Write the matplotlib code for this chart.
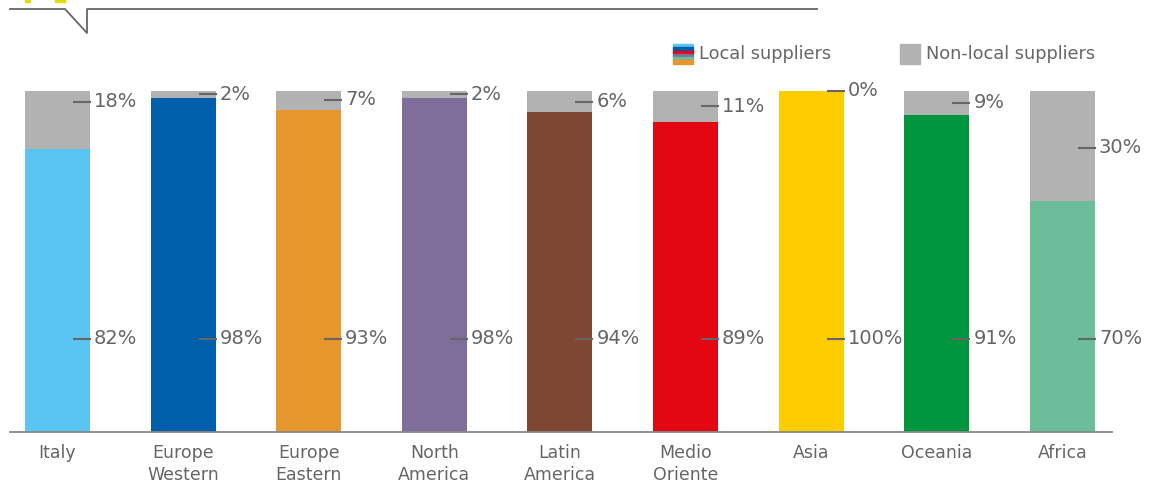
import matplotlib
matplotlib.use("Agg")
import matplotlib.pyplot as plt
from matplotlib.patches import Rectangle
from matplotlib.lines import Line2D

categories = ["Italy", "Europe\nWestern", "Europe\nEastern", "North\nAmerica", "Latin\nAmerica",
              "Medio\nOriente", "Asia", "Oceania", "Africa"]
# shares as drawn (bar heights)
local_drawn = [83.0, 97.9, 94.4, 97.9, 93.8, 90.9, 100, 93.0, 67.7]
# shares as labelled
local = [82, 98, 93, 98, 94, 89, 100, 91, 70]
nonlocal_ = [18, 2, 7, 2, 6, 11, 0, 9, 30]
colors = ["#5BC5F2", "#005EAB", "#E5972E", "#7F6D9A", "#7F4632", "#E30613", "#FFCC00", "#009640", "#6BBE99"]
gray = "#B2B2B2"
txt = "#666666"

# layout: y positions (axis %) for the non-local labels
nl_label_y = [96.8, 99.1, 97.4, 99.1, 96.8, 95.6, 100, 96.5, 83.3]
local_label_y = 27.3

plt.rcParams['font.family'] = ['DejaVu Sans']
W, H = 1158, 484
fig = plt.figure(figsize=(W / 100, H / 100), dpi=100)
ax = fig.add_axes([10 / W, 52 / H, 1102 / W, 341 / H])

x = list(range(len(categories)))
nonlocal_drawn = [100 - v for v in local_drawn]
bw = 65 / 125.6
ax.bar(x, local_drawn, width=bw, color=colors, zorder=2)
ax.bar(x, nonlocal_drawn, bottom=local_drawn, width=bw, color=gray, zorder=2)
ax.set_xlim(-0.378, 8.395)
ax.set_ylim(0, 100)
for s in ["top", "right", "left"]:
    ax.spines[s].set_visible(False)
ax.spines["bottom"].set_color("#888888")
ax.spines["bottom"].set_linewidth(1.3)
ax.set_yticks([])
ax.set_xticks(x)
ax.set_xticklabels(categories, color=txt, fontsize=12.5, linespacing=1.22)
ax.tick_params(axis="x", length=0, pad=9)

px = 1 / 125.6
for i in x:
    right = i + bw / 2
    for yv, val in [(local_label_y, local[i]), (nl_label_y[i], nonlocal_[i])]:
        ax.plot([right - 17 * px, right + 1 * px], [yv, yv], color=txt, lw=1.5, zorder=3,
                solid_capstyle="butt", clip_on=False)
        ax.text(right + 4 * px, yv, f"{val}%", color=txt, fontsize=14, va="center", ha="left",
                clip_on=False)

# legend
def frect(x0, y0, w, h, c):
    fig.patches.append(Rectangle((x0 / W, 1 - (y0 + h) / H), w / W, h / H, color=c,
                                 transform=fig.transFigure, figure=fig))

stripes = [("#5BC5F2", 3), ("#005EAB", 4), ("#E30613", 3), ("#7F6D9A", 3), ("#6BBE99", 3), ("#E5972E", 4)]
yy = 44
for c, h in stripes:
    frect(673, yy, 20, h, c)
    yy += h
fig.text(699 / W, 1 - 54 / H, "Local suppliers", color=txt, fontsize=12.8, va="center", ha="left")
frect(900, 44, 20, 20, gray)
fig.text(926 / W, 1 - 54 / H, "Non-local suppliers", color=txt, fontsize=12.8, va="center", ha="left")

# header decoration
pts_x = [10, 65, 87, 87, 817]
pts_y = [9, 9, 33, 9, 9]
fig.lines.append(Line2D([p / W for p in pts_x], [1 - p / H for p in pts_y], color=txt, lw=1.3,
                        transform=fig.transFigure))
frect(25, 0, 5, 2, "#E6D800")
frect(55, 0, 10, 2, "#E6D800")

fig.savefig("out.png", dpi=100)
